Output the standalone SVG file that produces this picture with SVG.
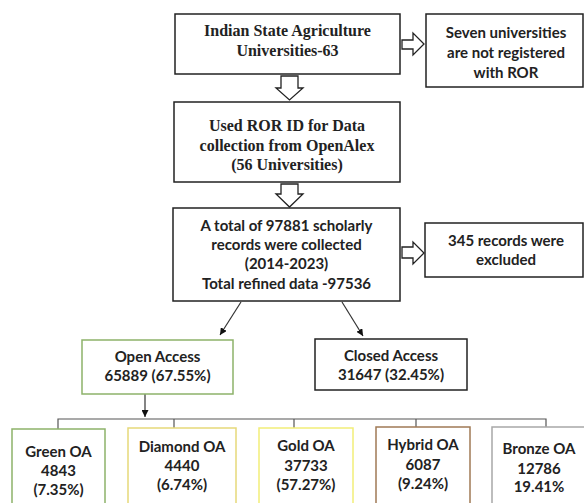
<svg xmlns="http://www.w3.org/2000/svg" width="584" height="503" viewBox="0 0 584 503">
<defs>
<style>
.box{fill:#fff;stroke:#222;stroke-width:1.5}
.serif{font-family:"Liberation Serif","Times New Roman",serif;font-weight:bold;font-size:16px;fill:#222;text-anchor:middle}
.sans{font-family:Lato,"Liberation Sans",sans-serif;font-weight:bold;font-size:15px;fill:#222;text-anchor:middle}
.block{fill:#fff;stroke:#222;stroke-width:1.3;stroke-linejoin:miter}
.line{stroke:#333;stroke-width:1.2;fill:none}
.tree{stroke:#555;stroke-width:1.2;fill:none}
</style>
<marker id="ah" viewBox="0 0 10 10" refX="10" refY="5" markerWidth="7" markerHeight="7" orient="auto" markerUnits="userSpaceOnUse">
<path d="M0,0 L10,5 L0,10 z" fill="#111"/>
</marker>
</defs>
<rect width="584" height="503" fill="#fff"/>

<g id="connectors">
<path class="block" d="M281,76 H298 V88 H303 L289.5,100 L276,88 H281 Z"/>
<path class="block" d="M281,184 H298 V194 H303 L289.5,207 L276,194 H281 Z"/>
<path class="block" d="M402,40 H413 V33 L424,44 L413,55 V49 H402 Z"/>
<path class="block" d="M402,247 H413 V242 L424,253 L413,264 V258 H402 Z"/>
<line class="line" x1="241" y1="302" x2="220" y2="335" marker-end="url(#ah)"/>
<line class="line" x1="342" y1="302" x2="363" y2="336" marker-end="url(#ah)"/>
<line class="line" x1="145" y1="394" x2="145" y2="417" marker-end="url(#ah)"/>
<path class="tree" d="M58,429 V419 H546 V428 M174,419 V428 M294,419 V428 M416,419 V428"/>
</g>

<g id="n-universities">
<rect class="box" x="175" y="14" width="225" height="60"/>
<text class="serif" x="287.5" y="36">Indian State Agriculture</text>
<text class="serif" x="287.5" y="56">Universities-63</text>
</g>

<g id="n-not-registered">
<rect class="box" x="426" y="14" width="157" height="73"/>
<text class="sans" x="506" y="38">Seven universities</text>
<text class="sans" x="506" y="58">are not registered</text>
<text class="sans" x="506" y="78">with ROR</text>
</g>

<g id="n-ror">
<rect class="box" x="174" y="102" width="226" height="80"/>
<text class="serif" x="287" y="131">Used ROR ID for Data</text>
<text class="serif" x="287" y="151">collection from OpenAlex</text>
<text class="serif" x="287" y="170">(56 Universities)</text>
</g>

<g id="n-records">
<rect class="box" x="173" y="208" width="227" height="93"/>
<text class="sans" x="286.5" y="231">A total of 97881 scholarly</text>
<text class="sans" x="286.5" y="250">records were collected</text>
<text class="sans" x="286.5" y="269">(2014-2023)</text>
<text class="sans" x="286.5" y="289">Total refined data -97536</text>
</g>

<g id="n-excluded">
<rect class="box" x="425" y="223" width="158" height="54"/>
<text class="sans" x="506" y="246">345 records were</text>
<text class="sans" x="506" y="265">excluded</text>
</g>

<g id="n-open">
<rect class="box" x="82" y="340" width="151" height="54" style="stroke:#8db26a"/>
<text class="sans" x="157.5" y="362">Open Access</text>
<text class="sans" x="157.5" y="381">65889 (67.55%)</text>
</g>

<g id="n-closed">
<rect class="box" x="315" y="339" width="152" height="51"/>
<text class="sans" x="391" y="361">Closed Access</text>
<text class="sans" x="391" y="380">31647 (32.45%)</text>
</g>

<g id="n-green">
<rect class="box" x="12" y="429" width="93" height="85" style="stroke:#8db26a"/>
<text class="sans" x="58.5" y="457">Green OA</text>
<text class="sans" x="58.5" y="476">4843</text>
<text class="sans" x="58.5" y="495">(7.35%)</text>
</g>

<g id="n-diamond">
<rect class="box" x="128" y="428" width="108" height="86" style="stroke:#e6d97a"/>
<text class="sans" x="182" y="452">Diamond OA</text>
<text class="sans" x="182" y="471">4440</text>
<text class="sans" x="182" y="490">(6.74%)</text>
</g>

<g id="n-gold">
<rect class="box" x="259" y="428" width="94" height="86" style="stroke:#f2ee78"/>
<text class="sans" x="306" y="451">Gold OA</text>
<text class="sans" x="306" y="471">37733</text>
<text class="sans" x="306" y="490">(57.27%)</text>
</g>

<g id="n-hybrid">
<rect class="box" x="376" y="427" width="94" height="87" style="stroke:#a07a55"/>
<text class="sans" x="423" y="450">Hybrid OA</text>
<text class="sans" x="423" y="470">6087</text>
<text class="sans" x="423" y="489">(9.24%)</text>
</g>

<g id="n-bronze">
<rect class="box" x="492" y="427" width="95" height="87" style="stroke:#a8a8a8"/>
<text class="sans" x="539" y="454">Bronze OA</text>
<text class="sans" x="539" y="474">12786</text>
<text class="sans" x="539" y="492">19.41%</text>
</g>
</svg>
